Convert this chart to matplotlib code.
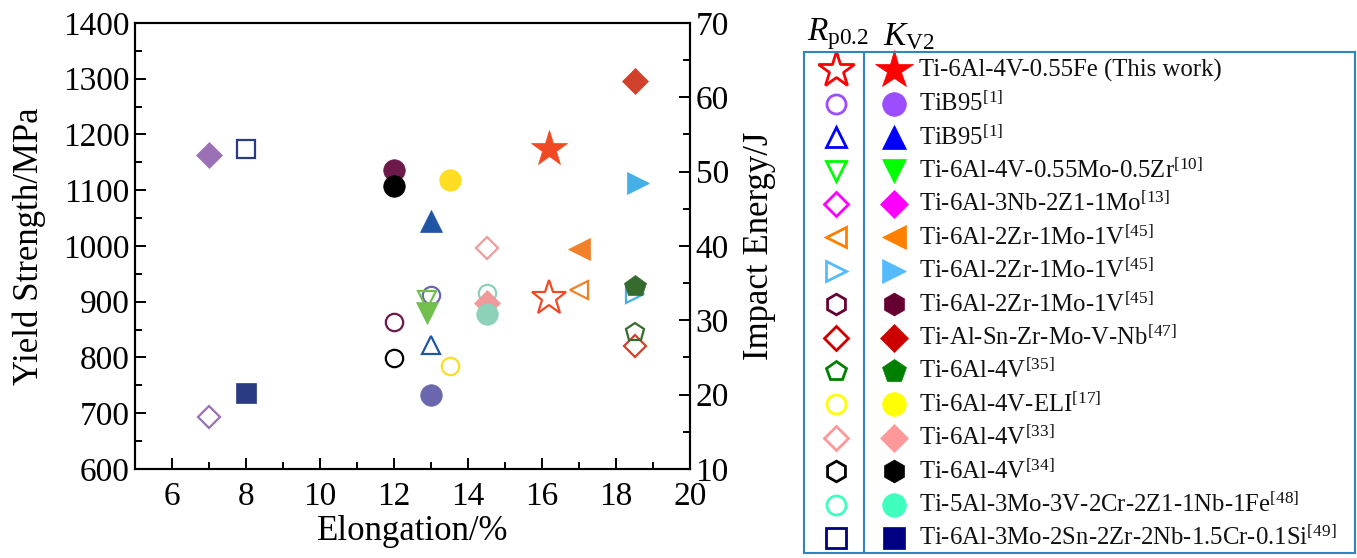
import numpy as np
import matplotlib
matplotlib.use('Agg')
import matplotlib.pyplot as plt
from matplotlib.ticker import MultipleLocator

plt.rcParams['font.family'] = ['Liberation Serif', 'DejaVu Serif']
plt.rcParams['mathtext.fontset'] = 'custom'
plt.rcParams['mathtext.rm'] = 'Liberation Serif'
plt.rcParams['mathtext.it'] = 'Liberation Serif:italic'

# data
names = ['Ti-6Al-4V-0.55Fe (This work)',
         'TiB95$^{\\mathrm{[1]}}$',
         'TiB95$^{\\mathrm{[1]}}$',
         'Ti-6Al-4V-0.55Mo-0.5Zr$^{\\mathrm{[10]}}$',
         'Ti-6Al-3Nb-2Z1-1Mo$^{\\mathrm{[13]}}$',
         'Ti-6Al-2Zr-1Mo-1V$^{\\mathrm{[45]}}$',
         'Ti-6Al-2Zr-1Mo-1V$^{\\mathrm{[45]}}$',
         'Ti-6Al-2Zr-1Mo-1V$^{\\mathrm{[45]}}$',
         'Ti-Al-Sn-Zr-Mo-V-Nb$^{\\mathrm{[47]}}$',
         'Ti-6Al-4V$^{\\mathrm{[35]}}$',
         'Ti-6Al-4V-ELI$^{\\mathrm{[17]}}$',
         'Ti-6Al-4V$^{\\mathrm{[33]}}$',
         'Ti-6Al-4V$^{\\mathrm{[34]}}$',
         'Ti-5Al-3Mo-3V-2Cr-2Z1-1Nb-1Fe$^{\\mathrm{[48]}}$',
         'Ti-6Al-3Mo-2Sn-2Zr-2Nb-1.5Cr-0.1Si$^{\\mathrm{[49]}}$']
elong_ys = [16.2, 13.0, 13.0, 12.9, 7.0, 17.0, 18.5, 12.0, 18.5, 18.5, 13.5, 14.5, 12.0, 14.5, 8.0]
yield_strength = [907, 912, 822, 903, 694, 921, 913, 863, 820, 846, 784, 996, 799, 915, 1173]
elong_kv = [16.2, 13.0, 13.0, 12.9, 7.0, 17.0, 18.6, 12.0, 18.5, 18.5, 13.5, 14.5, 12.0, 14.5, 8.0]
impact_energy = [53.0, 19.9, 43.3, 31.0, 52.2, 39.6, 48.4, 50.2, 62.2, 34.6, 48.9, 32.3, 48.0, 30.9, 20.2]

markers = ['*', 'o', '^', 'v', 'D', '<', '>', 'h', 'D', 'p', 'o', 'D', 'h', 'o', 's']
plot_markers = ['*', 'o', '^', 'v', 'D', '<', '>', 'o', 'D', 'p', 'o', 'D', 'o', 'o', 's']
plot_colors = ['#EF4A23', '#6A67AE', '#1F55A3', '#72BF4E', '#9B70B4', '#F0812A', '#44B0E6',
               '#6B1A4A', '#D0402A', '#356B2E', '#FEDD22', '#F19A9A', '#000000', '#8DD1B8', '#2A3B84']
legend_colors = ['#FF0000', '#9B4DFF', '#0000FF', '#00FF00', '#FF00FF', '#FF8000', '#55BBFF',
                 '#660033', '#CC0000', '#008000', '#FFFF00', '#FF9999', '#000000', '#3FFFBF', '#000080']
sizes = {'*': 27, 'o': 15.5, '^': 16, 'v': 16, 'D': 13, '<': 16, '>': 16, 'h': 15, 'p': 16, 's': 14}
open_sizes = {'*': 26, 'o': 12.5, '^': 13.5, 'v': 13.5, 'D': 11.5, '<': 13.5, '>': 13.5, 'h': 13.5, 'p': 13.5, 's': 12.5}

fig = plt.figure(figsize=(13.57, 5.58), dpi=100)
ax = fig.add_axes([0.0995, 0.1595, 0.409, 0.7995])
ax2 = ax.twinx()

for i in range(len(names)):
    m = plot_markers[i]
    ax.plot(elong_ys[i], yield_strength[i], linestyle='none', marker=m, ms=open_sizes[m],
            mfc='white' if m == '*' else 'none', mec=plot_colors[i], mew=1.6)
for i in range(len(names)):
    m = plot_markers[i]
    ax2.plot(elong_kv[i], impact_energy[i], linestyle='none', marker=m, ms=sizes[m],
             mfc=plot_colors[i], mec=plot_colors[i], mew=0.5)

ax.set_xlim(5, 20)
ax.set_ylim(600, 1400)
ax2.set_ylim(10, 70)
ax.set_xticks(np.arange(6, 21, 2))
ax.xaxis.set_minor_locator(MultipleLocator(1))
ax.yaxis.set_major_locator(MultipleLocator(100))
ax.yaxis.set_minor_locator(MultipleLocator(50))
ax2.yaxis.set_major_locator(MultipleLocator(10))
ax2.yaxis.set_minor_locator(MultipleLocator(5))

for a in (ax, ax2):
    a.tick_params(which='major', direction='in', length=8, width=1.4, labelsize=24, pad=4)
    a.tick_params(which='minor', direction='in', length=5, width=1.4)
    for s in a.spines.values():
        s.set_linewidth(1.5)
ax.tick_params(which='both', top=False, right=False)
ax.tick_params(axis='x', which='major', pad=9)
ax2.tick_params(which='both', left=False, right=True)

ax.set_xlabel('Elongation/%', fontsize=25, labelpad=2)
ax.set_ylabel('Yield Strength/MPa', fontsize=25, labelpad=12)
ax2.set_ylabel('Impact Energy/J', fontsize=25, labelpad=10)

# legend panel
lx0, ly0 = 804 / 1357, 1 - 553 / 558
lax = fig.add_axes([lx0, ly0, (1355 - 804) / 1357, (553 - 52) / 558])
lax.set_xlim(0, 1)
lax.set_ylim(len(names), 0)
lax.set_xticks([])
lax.set_yticks([])
for s in lax.spines.values():
    s.set_color('#2E86C1')
    s.set_linewidth(1.5)
lax.axvline(0.109, color='#2E86C1', lw=1.5)
for i in range(len(names)):
    m = markers[i]
    y = i + 0.55
    k = 1.1 if m != '*' else 1.05
    lax.plot(0.058, y, linestyle='none', marker=m, ms=open_sizes[m] * k,
             mfc='white' if m == '*' else 'none', mec=legend_colors[i], mew=2.0, clip_on=False)
    lax.plot(0.163, y, linestyle='none', marker=m, ms=sizes[m] * k,
             mfc=legend_colors[i], mec=legend_colors[i], mew=0.5, clip_on=False)
    lax.text(0.208, y, names[i], fontsize=17.8, va='center', ha='left', color='#111111')
lax.text(0.062, 1.0, '$R_{\\mathrm{p0.2}}$', transform=lax.transAxes, fontsize=24,
         ha='center', va='bottom')
lax.text(0.19, 1.0, '$K_{\\mathrm{V2}}$', transform=lax.transAxes, fontsize=24,
         ha='center', va='bottom')

fig.savefig('out.png', dpi=100)
